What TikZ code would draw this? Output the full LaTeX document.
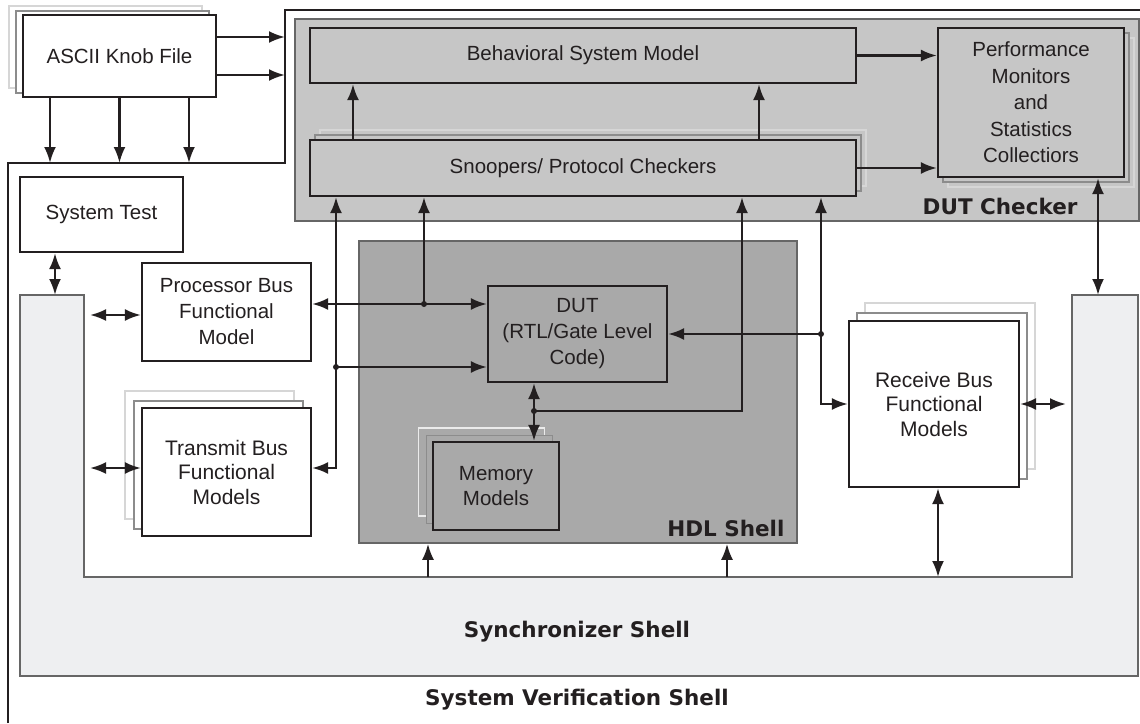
\documentclass[tikz,border=0pt]{standalone}
\usepackage{fontspec}
\setmainfont{Liberation Sans}
\newfontfamily\shellfont{DejaVu Sans}
\usetikzlibrary{arrows.meta}

\definecolor{txt}{HTML}{231F20}
\definecolor{checkergray}{HTML}{C6C6C6}
\definecolor{hdlgray}{HTML}{A9A9A9}
\definecolor{syncgray}{HTML}{EEEFF1}
\definecolor{edgegray}{HTML}{666666}
\definecolor{shadowdark}{HTML}{8C8C8C}
\definecolor{shadowlight}{HTML}{D6D6D6}

\begin{document}
\begin{tikzpicture}[x=1pt, y=-1pt,
		>={Latex[length=16pt,width=12pt]},
		every node/.style={text=txt, font=\fontsize{20.5}{25}\selectfont},
		box/.style={draw=txt, line width=2.2pt, fill=white, inner sep=0pt, align=center},
		shadowbox/.style={draw=#1, line width=1.8pt, fill=white, inner sep=0pt},
		region/.style={draw=edgegray, line width=1.5pt, inner sep=0pt},
		shelllabel/.style={font=\shellfont\bfseries\fontsize{21.5}{25}\selectfont},
		link/.style={draw=txt, line width=2.4pt},
		dot/.style={fill=txt}]
	
	\useasboundingbox (0,0) rectangle (1140,723);
	
	% --- Shells ---
	% System Verification Shell (outer line)
	\coordinate (svA) at (8,723);
	\coordinate (svB) at (8,163);
	\coordinate (svC) at (285,163);
	\coordinate (svD) at (285,10);
	\coordinate (svE) at (1140,10);
	\draw[txt, line width=1.8pt] (svA) -- (svB) -- (svC) -- (svD) -- (svE);
	
	% Synchronizer Shell (U shape)
	\coordinate (synA) at (20,295);
	\coordinate (synB) at (84,295);
	\coordinate (synC) at (84,577);
	\coordinate (synD) at (1072,577);
	\coordinate (synE) at (1072,295);
	\coordinate (synF) at (1138,295);
	\coordinate (synG) at (1138,676);
	\coordinate (synH) at (20,676);
	\draw[region, fill=syncgray] (synA) -- (synB) -- (synC) -- (synD) -- (synE)
		-- (synF) -- (synG) -- (synH) -- cycle;
	
	% DUT Checker and HDL Shell
	\node[region, fill=checkergray, minimum width=844, minimum height=202] (checker) at (717,120) {};
	\node[region, fill=hdlgray, minimum width=438, minimum height=302] (hdl) at (578,392) {};
	
	\node[shelllabel, anchor=base] (synclbl) at (577,637) {Synchronizer Shell};
	\node[shelllabel, anchor=base] (svlbl) at (577,705) {System Verification Shell};
	\node[shelllabel, anchor=base east] (checkerlbl) at (1081,214) {DUT Checker};
	\node[shelllabel, anchor=base east] (hdllbl) at (788,536) {HDL Shell};
	
	% --- Blocks ---
	\node[shadowbox=shadowlight, minimum width=193, minimum height=82] (knobS2) at (105.5,47) {};
	\node[shadowbox=shadowdark, minimum width=193, minimum height=82] (knobS1) at (112.5,52) {};
	\node[box, minimum width=193, minimum height=82] (knob) at (119.5,56) {ASCII Knob File};
	
	\node[box, minimum width=163, minimum height=75] (systest) at (101.5,214.5) {System Test};
	
	\node[box, fill=checkergray, minimum width=546, minimum height=55] (behav) at (583,55.5) {Behavioral System Model};
	
	\node[shadowbox=shadowlight, fill=checkergray, minimum width=546, minimum height=56] (snoopS2) at (593,158) {};
	\node[shadowbox=shadowdark, fill=checkergray, minimum width=546, minimum height=56] (snoopS1) at (588,163) {};
	\node[box, fill=checkergray, minimum width=546, minimum height=56] (snoop) at (583,168) {Snoopers/ Protocol Checkers};
	
	\node[shadowbox=shadowlight, fill=checkergray, minimum width=186, minimum height=149] (perfS2) at (1041,112.5) {};
	\node[shadowbox=shadowdark, fill=checkergray, minimum width=186, minimum height=149] (perfS1) at (1036,107.5) {};
	\node[box, fill=checkergray, minimum width=186, minimum height=149,
		font=\fontsize{20.5}{26.5}\selectfont] (perf) at (1031,102.5)
		{Performance\\Monitors\\and\\Statistics\\Collectiors};
	
	\node[box, minimum width=169, minimum height=98, font=\fontsize{20.5}{26}\selectfont]
		(procbfm) at (226.5,312) {Processor Bus\\Functional\\Model};
	
	\node[shadowbox=shadowlight, minimum width=169, minimum height=128] (txbfmS2) at (209.5,455) {};
	\node[shadowbox=shadowdark, minimum width=169, minimum height=128] (txbfmS1) at (218.5,465) {};
	\node[box, minimum width=169, minimum height=128, font=\fontsize{21}{24.5}\selectfont]
		(txbfm) at (226.5,472) {Transmit Bus\\Functional\\Models};
	
	\node[box, fill=hdlgray, minimum width=179, minimum height=96, font=\fontsize{20.5}{26}\selectfont]
		(dut) at (577.5,334) {DUT\\(RTL/Gate Level\\Code)};
	
	\node[shadowbox=white!92!black, fill=hdlgray, minimum width=126, minimum height=88] (memS2) at (481.5,472) {};
	\node[shadowbox=shadowdark, fill=hdlgray, minimum width=126, minimum height=88] (memS1) at (489.5,479.5) {};
	\node[box, fill=hdlgray, minimum width=126, minimum height=88, font=\fontsize{20.5}{25}\selectfont]
		(mem) at (496,486) {Memory\\Models};
	
	\node[shadowbox=shadowlight, minimum width=170, minimum height=166] (rxbfmS2) at (950,386) {};
	\node[shadowbox=shadowdark, minimum width=170, minimum height=166] (rxbfmS1) at (942,396) {};
	\node[box, minimum width=170, minimum height=166, font=\fontsize{21}{24.5}\selectfont]
		(rxbfm) at (934,404) {Receive Bus\\Functional\\Models};
	
	% --- Connections ---
	% knob file into the shells
	\draw[link, ->] ([yshift=19pt]knob.east) coordinate (k1) -- (k1 -| svC);
	\draw[link, ->] ([yshift=-19pt]knob.east) coordinate (k2) -- (k2 -| svC);
	\foreach \dx in {-69.5,0,69.5}
		\draw[link, ->] ([xshift=\dx pt]knob.south) coordinate (kd) -- (kd |- svC);
	
	% test and bus models to the synchronizer
	\draw[link, <->] ([xshift=-46.5pt]systest.south) coordinate (st) -- (st |- synA);
	\draw[link, <->, shorten >=6pt] ([yshift=-3pt]procbfm.west) coordinate (pw) -- (pw -| synB);
	\draw[link, <->, shorten >=6pt] ([yshift=4pt]txbfm.west) coordinate (tw) -- (tw -| synB);
	\draw[link, <->, shorten >=6pt] (rxbfm.east) -- (rxbfm.east -| synE);
	\draw[link, <->] ([xshift=4pt]rxbfm.south) coordinate (rs) -- (rs |- synD);
	\draw[link, <->] ([xshift=67pt]perf.south) coordinate (ps) -- (ps |- synF);
	\foreach \dx in {-150,149}
		\draw[link, <-] ([xshift=\dx pt]hdl.south) coordinate (hu) -- (hu |- synC);
	
	% processor bus model and DUT
	\coordinate (jA) at (424,304);
	\draw[link, <->] ([yshift=8pt]procbfm.east) coordinate (pe) -- (pe -| dut.west);
	\draw[link, ->] (jA) -- (jA |- snoop.south);
	\fill[dot] (jA) circle (3pt);
	
	% transmit bus models and DUT
	\coordinate (jB) at (336,367);
	\draw[link, <->] (jB |- snoop.south) -- (jB |- tw) -- ([yshift=4pt]txbfm.east);
	\draw[link, ->] (jB) -- (jB -| dut.west);
	\fill[dot] (jB) circle (3pt);
	
	% receive bus models and DUT
	\coordinate (jC) at (821,334);
	\draw[link, <->] (jC |- snoop.south) -- (jC |- rxbfm.west) -- (rxbfm.west);
	\draw[link, ->] (jC) -- (dut.east);
	\fill[dot] (jC) circle (3pt);
	
	% DUT and memory models
	\coordinate (jD) at (534,411);
	\coordinate (jE) at (742,411);
	\draw[link, <->] ([xshift=-43.5pt]dut.south) coordinate (dm) -- (dm |- mem.north);
	\draw[link, ->] (jD) -- (jE) -- (jE |- snoop.south);
	\fill[dot] (jD) circle (3pt);
	
	% inside the DUT checker
	\foreach \dx in {-230,176}
		\draw[link, ->] ([xshift=\dx pt]snoop.north) coordinate (sb) -- (sb |- behav.south);
	\draw[link, ->] (behav.east) -- (behav.east -| perf.west);
	\draw[link, ->] (snoop.east) -- (snoop.east -| perf.west);
\end{tikzpicture}
\end{document}
